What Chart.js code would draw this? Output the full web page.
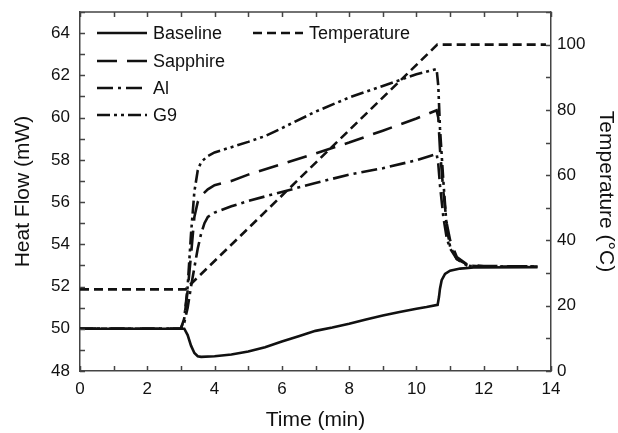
<!DOCTYPE html>
<html lang="en">
<head>
  <meta charset="UTF-8">
  <title>Heat Flow and Temperature</title>
  <script src="https://cdn.jsdelivr.net/npm/chart.js"></script>
  <style>
    body {
      margin: 0;
      background: white;
    }
  </style>
</head>
<body>
  <canvas id="dscChart" width="618" height="433"></canvas>

  <script>
    // heat flow series (mW) against time (min)
    const baselineTime = [0, 3.05, 3.1, 3.2, 3.3, 3.4, 3.5, 3.6, 4.0, 4.5, 5, 5.5, 6, 6.5, 7, 7.5, 8, 8.5, 9, 9.5, 10, 10.3, 10.63, 10.67, 10.7, 10.75, 10.85, 11.0, 11.3, 11.7, 13.6];
    const baselineFlow = [50, 50, 50.0, 49.7, 49.2, 48.85, 48.7, 48.67, 48.7, 48.78, 48.92, 49.13, 49.4, 49.65, 49.9, 50.06, 50.24, 50.44, 50.63, 50.79, 50.95, 51.03, 51.13, 51.5, 51.9, 52.3, 52.6, 52.75, 52.85, 52.9, 52.92];

    const sapphireTime = [0, 3.0, 3.1, 3.2, 3.3, 3.4, 3.5, 3.6, 3.8, 4.0, 4.5, 5, 6, 7, 8, 9, 10, 10.6, 10.65, 10.7, 10.8, 10.9, 11.0, 11.2, 11.5, 12, 13.6];
    const sapphireFlow = [50, 50, 50.5, 51.8, 53.5, 55.3, 56.0, 56.3, 56.6, 56.8, 57.0, 57.3, 57.8, 58.3, 58.82, 59.38, 59.96, 60.35, 60.0, 58.5, 56.5, 55.0, 54.2, 53.4, 53.05, 52.97, 52.95];

    const alTime = [0, 3.0, 3.1, 3.2, 3.3, 3.4, 3.5, 3.6, 3.7, 3.8, 4.0, 4.5, 5, 6, 7, 8, 9, 10, 10.6, 10.65, 10.7, 10.8, 10.9, 11.0, 11.2, 11.5, 12, 13.6];
    const alFlow = [50, 50, 50.3, 51, 52, 52.9, 53.8, 54.5, 55.0, 55.3, 55.5, 55.8, 56.05, 56.48, 56.9, 57.3, 57.6, 57.98, 58.28, 57.8, 56.8, 55.3, 54.3, 53.8, 53.3, 53.0, 52.95, 52.95];

    const g9Time = [0, 3.0, 3.1, 3.2, 3.3, 3.4, 3.5, 3.6, 3.8, 4.0, 4.5, 5, 5.5, 6, 7, 8, 9, 10, 10.6, 10.65, 10.7, 10.8, 10.9, 11.0, 11.2, 11.6, 12, 13.6];
    const g9Flow = [50, 50, 50.5, 52, 54.5, 56.5, 57.5, 57.9, 58.18, 58.35, 58.6, 58.85, 59.12, 59.5, 60.28, 60.95, 61.5, 62.05, 62.3, 61.5, 59.5, 57.0, 54.8, 53.9, 53.3, 52.97, 52.95, 52.95];

    // temperature program (°C)
    const tempTime = [0, 3.13, 10.62, 13.85];
    const tempValue = [25, 25, 100, 100];

    const xTicks = [0, 2, 4, 6, 8, 10, 12, 14];
    const flowTicks = [48, 50, 52, 54, 56, 58, 60, 62, 64];
    const tempTicks = [0, 20, 40, 60, 80, 100];

    const ink = '#111';
    const axisInk = '#444';
    const fontFamily = '"Liberation Sans", Arial, Helvetica, sans-serif';

    function points(times, values) {
      return times.map((t, i) => ({ x: t, y: values[i] }));
    }

    function series(label, times, values, dash, axis) {
      return {
        label: label,
        data: points(times, values),
        borderColor: ink,
        borderWidth: 2.6,
        borderDash: dash,
        pointRadius: 0,
        tension: 0,
        fill: false,
        yAxisID: axis
      };
    }

    // inward tick marks, top frame line and the in-plot legend
    const frameAndLegend = {
      id: 'frameAndLegend',
      afterDatasetsDraw(chart) {
        const { ctx, chartArea: a, scales } = chart;
        const len = 5;
        ctx.save();
        ctx.strokeStyle = axisInk;
        ctx.lineWidth = 1.5;
        ctx.setLineDash([]);
        ctx.beginPath();
        scales.x.ticks.forEach(t => {
          const px = Math.round(scales.x.getPixelForValue(t.value)) + 0.5;
          ctx.moveTo(px, a.bottom); ctx.lineTo(px, a.bottom - len);
          ctx.moveTo(px, a.top); ctx.lineTo(px, a.top + len);
        });
        scales.y.ticks.forEach(t => {
          const py = Math.round(scales.y.getPixelForValue(t.value)) + 0.5;
          ctx.moveTo(a.left, py); ctx.lineTo(a.left + len, py);
        });
        scales.y2.ticks.forEach(t => {
          const py = Math.round(scales.y2.getPixelForValue(t.value)) + 0.5;
          ctx.moveTo(a.right, py); ctx.lineTo(a.right - len, py);
        });
        ctx.moveTo(a.left, a.top); ctx.lineTo(a.right, a.top);
        ctx.stroke();

        // legend
        ctx.font = '18px ' + fontFamily;
        ctx.fillStyle = ink;
        ctx.textBaseline = 'middle';
        const rows = [
          { i: 0, x: 97, y: 33 },
          { i: 1, x: 97, y: 61 },
          { i: 2, x: 97, y: 88 },
          { i: 3, x: 97, y: 115 },
          { i: 4, x: 253, y: 33 }
        ];
        rows.forEach(r => {
          const ds = chart.data.datasets[r.i];
          ctx.strokeStyle = ink;
          ctx.lineWidth = 2.6;
          ctx.setLineDash(ds.borderDash || []);
          ctx.beginPath();
          ctx.moveTo(r.x, r.y);
          ctx.lineTo(r.x + 50, r.y);
          ctx.stroke();
          ctx.fillText(ds.label, r.x + 56, r.y + 1);
        });
        ctx.restore();
      }
    };

    const tickFont = { family: fontFamily, size: 17 };
    const titleFont = { family: fontFamily, size: 21 };

    function fixVertical(width) {
      return s => { s.width = width; s.paddingTop = 0; s.paddingBottom = 0; };
    }

    new Chart(document.getElementById('dscChart'), {
      type: 'line',
      data: {
        datasets: [
          series('Baseline', baselineTime, baselineFlow, [], 'y'),
          series('Sapphire', sapphireTime, sapphireFlow, [20, 10], 'y'),
          series('Al', alTime, alFlow, [16, 5, 3, 5], 'y'),
          series('G9', g9Time, g9Flow, [13, 4, 3, 4, 3, 4], 'y'),
          series('Temperature', tempTime, tempValue, [9, 5], 'y2')
        ]
      },
      options: {
        responsive: false,
        animation: false,
        layout: { padding: { top: 12, left: 0, right: 0, bottom: 0 } },
        plugins: {
          legend: { display: false },
          tooltip: { enabled: false }
        },
        scales: {
          x: {
            type: 'linear',
            min: 0,
            max: 14,
            grid: { display: false, drawTicks: false },
            border: { display: true, color: axisInk, width: 1.5 },
            ticks: {
              stepSize: 1,
              autoSkip: false,
              maxRotation: 0,
              padding: 8,
              color: ink,
              font: tickFont,
              callback: v => xTicks.includes(v) ? String(v) : ''
            },
            title: { display: true, text: 'Time (min)', color: ink, font: titleFont, padding: { top: 0, bottom: 0 } },
            afterFit: s => { s.height = 62; s.paddingLeft = 0; s.paddingRight = 0; }
          },
          y: {
            position: 'left',
            min: 48,
            max: 65,
            grid: { display: false, drawTicks: false },
            border: { display: true, color: axisInk, width: 1.5 },
            ticks: {
              stepSize: 1,
              autoSkip: false,
              padding: 10,
              color: ink,
              font: tickFont,
              callback: v => flowTicks.includes(v) ? String(v) : ''
            },
            title: { display: true, text: 'Heat Flow (mW)', color: ink, font: titleFont, padding: { top: 11, bottom: 0 } },
            afterFit: fixVertical(80)
          },
          y2: {
            position: 'right',
            min: 0,
            max: 110,
            grid: { display: false, drawTicks: false },
            border: { display: true, color: axisInk, width: 1.5 },
            ticks: {
              stepSize: 10,
              autoSkip: false,
              padding: 6,
              color: ink,
              font: tickFont,
              callback: v => tempTicks.includes(v) ? String(v) : ''
            },
            title: { display: true, text: 'Temperature (°C)', color: ink, font: titleFont, padding: { top: 0, bottom: 0 } },
            afterFit: fixVertical(67)
          }
        }
      },
      plugins: [frameAndLegend]
    });
  </script>
</body>
</html>
